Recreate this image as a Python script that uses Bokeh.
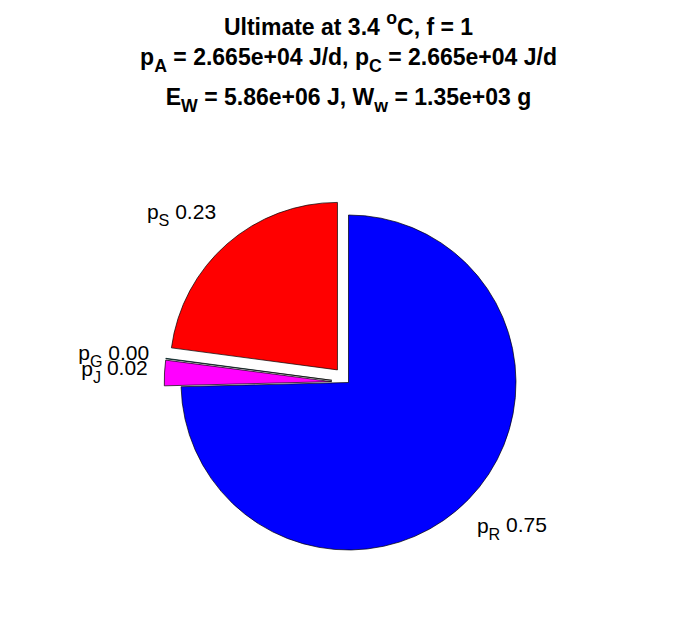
import math
from bokeh.plotting import figure
from bokeh.models import Range1d, ColumnDataSource
from bokeh.core.properties import value
from bokeh.embed import file_html
from bokeh.resources import INLINE

# ---------------- data ----------------
slice_names = ["S", "G", "J", "R"]
slice_fractions = [0.229, 0.0005, 0.0245, 0.746]
slice_labels = ["0.23", "0.00", "0.02", "0.75"]
slice_colors = ["#ff0000", "#00ffff", "#ff00ff", "#0000ff"]
slice_explode = [1, 1, 1, 0]

title_line1 = [("Ultimate at 3.4 ", "n"), ("o", "sup"), ("C, f = 1", "n")]
title_line2 = [("p", "n"), ("A", "sub"), (" = 2.665e+04 J/d, p", "n"), ("C", "sub"), (" = 2.665e+04 J/d", "n")]
title_line3 = [("E", "n"), ("W", "sub"), (" = 5.86e+06 J, W", "n"), ("w", "sub"), (" = 1.35e+03 g", "n")]
title_lines = [title_line1, title_line2, title_line3]

# ---------------- layout ----------------
W, H = 680, 602
ORIGIN = 0.0                 # page offset of the figure as rendered
CX, CY = 348.0, 382.0        # page px of pie centre
PX = 167.5                   # px per unit radius
FONT = "Liberation Sans"
TITLE_SIZE = 23.0
LABEL_SIZE = 21.0
SUB_SCALE = 0.77
SHIFT = 0.4
BASELINE_FIX = -0.38         # render-offset correction, in em
TITLE_BASELINES = [35.0, 65.5, 105.0]

REG = {" ": 278, ".": 278, "p": 556, "S": 667, "R": 722, "G": 778, "J": 500}
BOLD = {" ": 278, ",": 278, ".": 278, "/": 278, "+": 584, "=": 584, "A": 722, "C": 722,
        "E": 667, "J": 556, "U": 722, "W": 944, "a": 556, "d": 611, "e": 556, "f": 333,
        "g": 611, "i": 278, "l": 278, "m": 889, "o": 611, "p": 611, "t": 333, "w": 778}
for d in "0123456789":
    REG[d] = 556
    BOLD[d] = 556


def seg_size(kind, base):
    return base * SUB_SCALE if kind in ("sub", "sup") else base


def str_width(t, size, bold):
    tbl = BOLD if bold else REG
    return sum(tbl.get(c, 556) for c in t) * size / 1000.0


def comp_width(segs, base, bold):
    return sum(str_width(t, seg_size(k, base), bold) for t, k in segs)


def to_dx(xp):
    return (xp - CX) / PX


def to_dy(yp):
    return (CY - yp) / PX


p = figure(width=W, height=H, output_backend="svg", toolbar_location=None,
           x_range=Range1d(to_dx(ORIGIN), to_dx(ORIGIN + W)),
           y_range=Range1d(to_dy(ORIGIN + H), to_dy(ORIGIN)),
           x_axis_location=None, y_axis_location=None, min_border=0,
           background_fill_color="white", border_fill_color="white")
p.outline_line_color = None
p.grid.visible = False

texts = {}


def place(segs, x0, baseline, base, bold):
    x = x0
    baseline = baseline + BASELINE_FIX * base
    for t, k in segs:
        s = seg_size(k, base)
        yb = baseline + (SHIFT * base if k == "sub" else (-SHIFT * base if k == "sup" else 0.0))
        stripped = t.lstrip(" ")
        x += str_width(t[: len(t) - len(stripped)], s, bold)
        core = stripped.rstrip(" ")
        if core:
            key = (round(s, 3), bold)
            d = texts.setdefault(key, {"x": [], "y": [], "text": []})
            d["x"].append(to_dx(x))
            d["y"].append(to_dy(yb))
            d["text"].append(core)
        x += str_width(stripped, s, bold)


# ---------------- pie ----------------
total = sum(slice_fractions)
wx, wy, ws, we, wc = [], [], [], [], []
theta0 = math.pi / 2
for name, frac, lab, col, ex in zip(slice_names, slice_fractions, slice_labels, slice_colors, slice_explode):
    span = 2 * math.pi * frac / total
    mid = theta0 + span / 2
    ox = 0.1 * math.cos(mid) if ex else 0.0
    oy = 0.1 * math.sin(mid) if ex else 0.0
    wx.append(ox); wy.append(oy); ws.append(theta0); we.append(theta0 + span); wc.append(col)
    # label
    ax = CX + (ox + 1.1 * math.cos(mid)) * PX
    ay = CY - (oy + 1.1 * math.sin(mid)) * PX
    segs = [("p", "n"), (name, "sub"), (" " + lab, "n")]
    w = comp_width(segs, LABEL_SIZE, False)
    x0 = ax - w if math.cos(mid) < 0 else ax - 3.5
    s = math.sin(mid)
    if s > 0.5:
        base = ay - 0.56 * LABEL_SIZE
    elif s < -0.5:
        base = ay + 1.05 * LABEL_SIZE
    else:
        base = ay + 0.2 * LABEL_SIZE
    place(segs, x0, base, LABEL_SIZE, False)
    theta0 += span

src = ColumnDataSource(dict(x=wx, y=wy, start=ws, end=we, color=wc))
p.wedge(x="x", y="y", radius=1.0, start_angle="start", end_angle="end", direction="anticlock",
        fill_color="color", line_color="black", line_width=0.7, source=src)

# ---------------- title ----------------
for segs, bl in zip(title_lines, TITLE_BASELINES):
    w = comp_width(segs, TITLE_SIZE, True)
    place(segs, CX - w / 2, bl, TITLE_SIZE, True)

for (size, bold), d in texts.items():
    p.text(x=d["x"], y=d["y"], text=d["text"], text_font=value(FONT),
           text_font_size=value(f"{size}px"), text_font_style="bold" if bold else "normal",
           text_align="left", text_baseline="alphabetic", text_color="black")

open("out.html", "w").write(file_html(p, INLINE))
